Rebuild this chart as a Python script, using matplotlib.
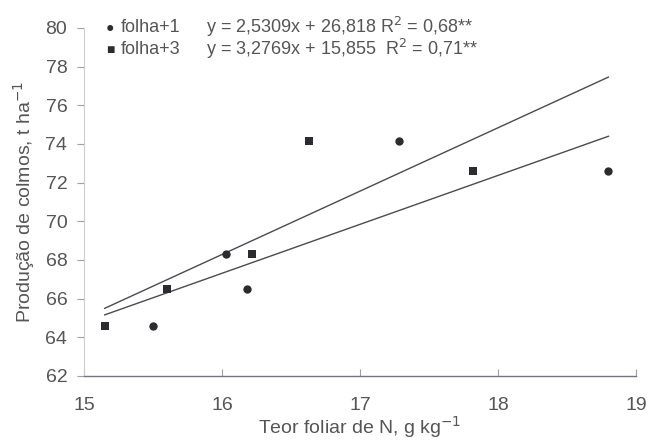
import matplotlib
matplotlib.use("Agg")
import matplotlib.pyplot as plt
import numpy as np

plt.rcParams['font.family'] = ['Liberation Sans', 'DejaVu Sans']

# Data
prod = [64.6, 66.5, 68.3, 74.15, 72.6]
n_folha1 = [15.50, 16.18, 16.03, 17.28, 18.80]
n_folha3 = [15.15, 15.60, 16.22, 16.63, 17.82]
coef_folha1 = (2.5309, 26.818)
coef_folha3 = (3.2769, 15.855)
eq_folha1 = r"y = 2,5309x + 26,818 R$^2$ = 0,68**"
eq_folha3 = r"y = 3,2769x + 15,855  R$^2$ = 0,71**"
xticks = [15, 16, 17, 18, 19]
yticks = [62, 64, 66, 68, 70, 72, 74, 76, 78, 80]

txt = '#555555'
fig = plt.figure(figsize=(6.48, 4.42), dpi=100)
ax = fig.add_axes([84/648, 1-376/442, (636-84)/648, (376-28)/442])

ax.scatter(n_folha1, prod, marker='o', s=36, color='#2b2b30', zorder=3, linewidths=0)
ax.scatter(n_folha3, prod, marker='s', s=36, color='#2b2b30', zorder=3, linewidths=0)

xmin = min(min(n_folha1), min(n_folha3))
xmax = max(max(n_folha1), max(n_folha3))
xl = np.array([xmin, xmax])
ax.plot(xl, coef_folha1[0]*xl + coef_folha1[1], color='#4a4a50', lw=1.0)
ax.plot(xl, coef_folha3[0]*xl + coef_folha3[1], color='#4a4a50', lw=1.0)

ax.set_xlim(15, 19)
ax.set_ylim(62, 80)
ax.set_xticks(xticks)
ax.set_yticks(yticks)
ax.tick_params(axis='y', direction='out', length=5, color='#9aa0a8', labelsize=14, labelcolor=txt, pad=7)
ax.tick_params(axis='x', direction='in', length=5, color='#9aa0a8', labelsize=14, labelcolor=txt, pad=15)
for s in ['top', 'right']:
    ax.spines[s].set_visible(False)
ax.spines['left'].set_color('#c8ccd4')
ax.spines['bottom'].set_color('#7a6f8a')
ax.spines['bottom'].set_linewidth(1.0)

ax.set_xlabel(r"Teor foliar de N, g kg$^{-1}$", fontsize=14, color=txt, labelpad=0)
ax.set_ylabel(r"Produção de colmos, t ha$^{-1}$", fontsize=14, color=txt, labelpad=6)

# Legend as text
fig.text(110/648, 1-28/442, '●', fontsize=10, color='#2b2b30', va='center', ha='center')
fig.text(110/648, 1-50/442, '■', fontsize=10, color='#2b2b30', va='center', ha='center')
fig.text(121/648, 1-28/442, 'folha+1', fontsize=13, color=txt, va='center')
fig.text(121/648, 1-50/442, 'folha+3', fontsize=13, color=txt, va='center')
fig.text(206/648, 1-27/442, eq_folha1, fontsize=13, color=txt, va='center')
fig.text(206/648, 1-49/442, eq_folha3, fontsize=13, color=txt, va='center')

fig.savefig('out.png', dpi=100)
